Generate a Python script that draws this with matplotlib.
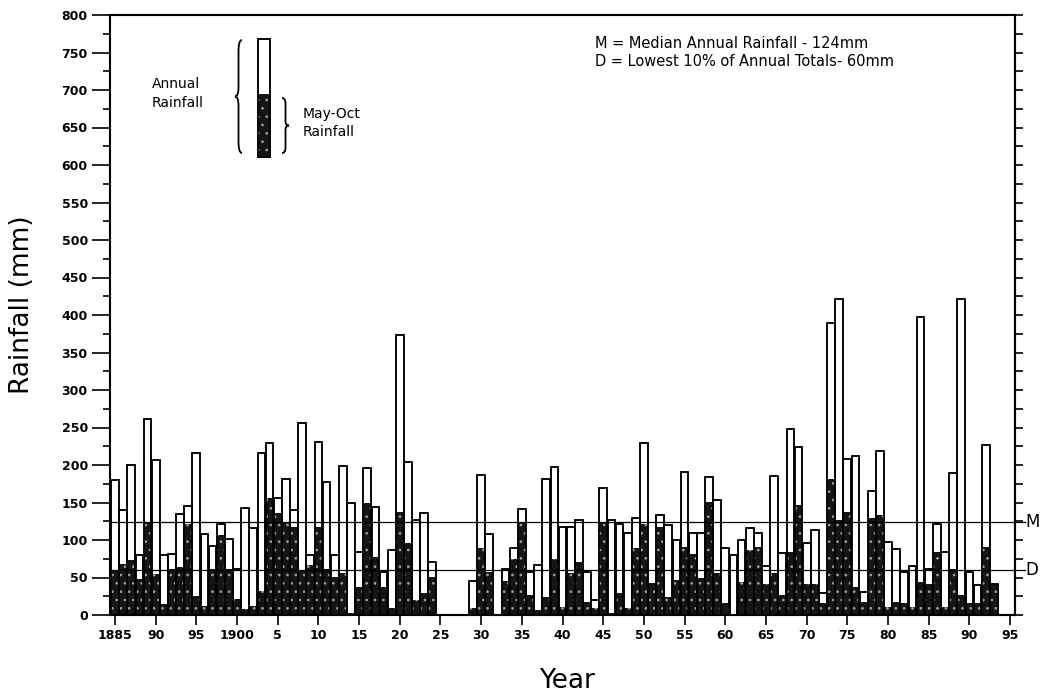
import matplotlib.pyplot as plt
from matplotlib.path import Path
from matplotlib.patches import PathPatch, Rectangle
from matplotlib.transforms import blended_transform_factory

plt.rcParams['font.family'] = ['DejaVu Sans']
plt.rcParams['hatch.linewidth'] = 0.7

# yearly rainfall totals (mm), None = no record
years = list(range(1885, 1994))
annual = [180, 140, 200, 80, 262, 207, 80, 82, 135, 146,
          216, 108, 92, 122, 102, 62, 143, 116, 216, 229,
          156, 182, 140, 256, 80, 231, 178, 80, 199, 149,
          84, 196, 144, 58, 87, 373, 204, 127, 136, 71,
          None, None, None, None, 45, 187, 108, None, 62, 89,
          142, 58, 67, 182, 198, 118, 118, 127, 58, 20,
          169, 127, 122, 109, 129, 229, 42, 133, 120, 100,
          191, 109, 109, 184, 153, 89, 80, 100, 116, 110,
          65, 185, 83, 248, 224, 96, 114, 30, 390, 422,
          208, 212, 31, 166, 219, 98, 88, 58, 66, 398,
          62, 122, 84, 190, 421, 58, 40, 227, 41]
may_oct = [60, 68, 73, 48, 124, 55, 15, 62, 64, 122,
           25, 12, 62, 107, 62, 22, 8, 12, 32, 156,
           136, 124, 118, 60, 67, 118, 62, 51, 56, 3,
           38, 149, 78, 38, 9, 138, 96, 20, 29, 51,
           None, None, None, None, 10, 90, 58, None, 45, 75,
           124, 27, 7, 24, 75, 11, 56, 71, 18, 10,
           124, 3, 29, 9, 89, 122, 40, 118, 24, 47,
           91, 82, 49, 151, 56, 16, 2, 44, 87, 91,
           42, 56, 27, 84, 147, 42, 42, 16, 181, 127,
           138, 38, 18, 129, 133, 11, 18, 16, 11, 44,
           41, 84, 11, 62, 27, 16, 16, 91, 41]

median_annual = 124
lowest_decile = 60

xtick_years = list(range(1885, 1996, 5))
xtick_labels = ['1885', '90', '95', '1900', '5', '10', '15', '20', '25', '30', '35',
                '40', '45', '50', '55', '60', '65', '70', '75', '80', '85', '90', '95']

W, H = 1044, 699
fig = plt.figure(figsize=(W / 100, H / 100), dpi=100)
ax = fig.add_axes([110 / W, 1 - 615 / H, 905 / W, 600 / H])

yr = [y for y, a in zip(years, annual) if a is not None]
ann = [a for a in annual if a is not None]
mo = [m for m in may_oct if m is not None]

bw = 0.95
ax.bar(yr, ann, width=bw, color='white', edgecolor='black', linewidth=1.1, zorder=2)
ax.bar(yr, mo, width=bw, color='#151515', edgecolor='#a0a0a0', hatch='..',
       linewidth=0, zorder=3)
ax.bar(yr, ann, width=bw, fill=False, edgecolor='black', linewidth=1.1, zorder=4)

# median and lowest-decile reference lines
tr = blended_transform_factory(ax.transAxes, ax.transData)
for val, lab in [(median_annual, 'M'), (lowest_decile, 'D')]:
    ax.plot([0, 1.011], [val, val], transform=tr, color='black', lw=0.9,
            zorder=5, clip_on=False)
    ax.text(1.012, val, lab, transform=tr, fontsize=12, va='center', ha='left')

ax.set_xlim(1884.39, 1995.6)
ax.set_ylim(0, 800)
ax.set_xticks(xtick_years)
ax.set_xticklabels(xtick_labels, fontsize=9, fontweight='bold')
ax.set_yticks(range(0, 801, 50))
ax.set_yticks(range(25, 800, 50), minor=True)
for lab in ax.get_yticklabels():
    lab.set_fontsize(9)
    lab.set_fontweight('bold')

ax.tick_params(axis='y', which='major', direction='out', length=13, width=1.2, pad=3)
ax.tick_params(axis='y', which='minor', direction='out', length=5, width=1.2)
ax.tick_params(axis='x', which='major', direction='out', length=7, width=1.2, pad=3)

sec = ax.secondary_yaxis('right')
sec.set_yticks(range(0, 801, 25))
sec.tick_params(direction='out', length=6, width=1.2, labelright=False)
sec.spines['right'].set_linewidth(1.5)

for s in ax.spines.values():
    s.set_linewidth(1.5)

fig.text(22 / W, 1 - 305 / H, 'Rainfall (mm)', rotation=90, ha='center', va='center',
         fontsize=19)
fig.text(567 / W, 1 - 681 / H, 'Year', ha='center', va='center', fontsize=19)

# key drawn at top left
fig.add_artist(Rectangle((258 / W, 1 - 157 / H), 12 / W, 118 / H, transform=fig.transFigure,
                         facecolor='white', edgecolor='black', lw=1.1))
fig.add_artist(Rectangle((258 / W, 1 - 157 / H), 12 / W, 63 / H, transform=fig.transFigure,
                         facecolor='#151515', edgecolor='#a0a0a0', hatch='..', lw=0))
fig.add_artist(Rectangle((258 / W, 1 - 157 / H), 12 / W, 118 / H, transform=fig.transFigure,
                         fill=False, edgecolor='black', lw=1.1))


def brace(x, y0, y1, w, side):
    # x, y in pixels from top-left; side=-1 tip points left, +1 tip points right
    ym = (y0 + y1) / 2
    h = y1 - y0
    xo = x
    xc = x + side * w / 2
    verts = [(xo, y0), (xc, y0), (xc, y0 + 0.1 * h),
             (xc, ym - 0.08 * h),
             (xc, ym), (xc + side * w / 2, ym),
             (xc, ym), (xc, ym + 0.08 * h),
             (xc, y1 - 0.1 * h),
             (xc, y1), (xo, y1)]
    codes = [Path.MOVETO, Path.CURVE3, Path.CURVE3, Path.LINETO,
             Path.CURVE3, Path.CURVE3, Path.CURVE3, Path.CURVE3,
             Path.LINETO, Path.CURVE3, Path.CURVE3]
    verts = [(vx / W, 1 - vy / H) for vx, vy in verts]
    fig.add_artist(PathPatch(Path(verts, codes), transform=fig.transFigure,
                             fill=False, lw=1.3, edgecolor='black'))


brace(242, 40, 153, 7, -1)
brace(282, 98, 153, 7, 1)

fig.text(152 / W, 1 - 84 / H, 'Annual', fontsize=10, va='center', ha='left')
fig.text(152 / W, 1 - 103 / H, 'Rainfall', fontsize=10, va='center', ha='left')
fig.text(303 / W, 1 - 114 / H, 'May-Oct', fontsize=10, va='center', ha='left')
fig.text(303 / W, 1 - 132 / H, 'Rainfall', fontsize=10, va='center', ha='left')

fig.text(595 / W, 1 - 44 / H, 'M = Median Annual Rainfall - 124mm', fontsize=10.5,
         va='center', ha='left')
fig.text(595 / W, 1 - 61 / H, 'D = Lowest 10% of Annual Totals- 60mm', fontsize=10.5,
         va='center', ha='left')

fig.savefig('out.png', dpi=100)
